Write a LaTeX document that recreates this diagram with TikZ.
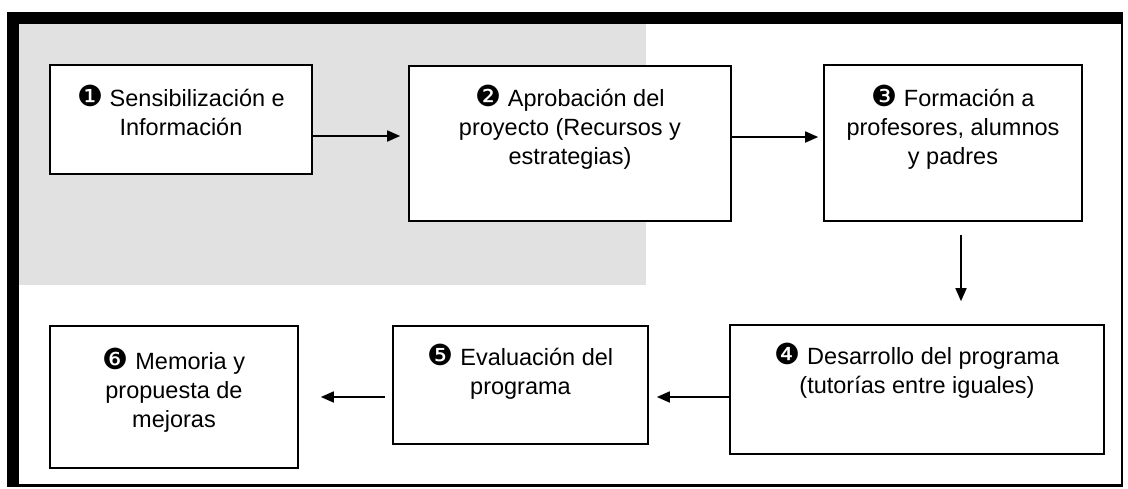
\documentclass[tikz,border=0pt]{standalone}
\usepackage{fontspec}
\setmainfont{Liberation Sans}
\newfontfamily\dingfont{DejaVu Sans}
\usetikzlibrary{arrows.meta}
\definecolor{panelgray}{HTML}{E1E1E1}
\newcommand{\dnum}[1]{{\dingfont\fontsize{29pt}{29pt}\selectfont #1}}
\newcommand{\boxtext}[4]{\parbox[t][#2pt][t]{#1pt}{\centering\rule{0pt}{#3pt}#4}}
\tikzset{
  stepbox/.style={draw=black, line width=1.6pt, fill=white, inner sep=0pt,
    font=\fontsize{23.5pt}{29pt}\selectfont},
  arr/.style={line width=1.7pt, -{Triangle[length=13pt,width=11pt]}},
}
\begin{document}
\begin{tikzpicture}[x=1pt,y=-1pt]
\useasboundingbox (0,0) rectangle (1128,488);
\fill[white] (0,0) rectangle (1128,488);
% frame
\fill[panelgray] (19,24) rectangle (646,285);
\draw[line width=2.5pt] (8,13) rectangle (1122,485.5);
\fill[black] (7,12) rectangle (1123,24);
\fill[black] (7,12) rectangle (19,487);
% boxes
\node[stepbox] (b1) at (181,119.5) {\boxtext{262}{109}{41}{\dnum{❶} Sensibilización e\\Información}};
\node[stepbox] (b2) at (570,143.5) {\boxtext{322}{155}{40}{\dnum{❷} Aprobación del\\proyecto (Recursos y\\estrategias)}};
\node[stepbox] (b3) at (953,143) {\boxtext{258}{156}{41.5}{\dnum{❸} Formación a\\profesores, alumnos\\y padres}};
\node[stepbox] (b4) at (917,389.5) {\boxtext{374}{129}{39}{\dnum{❹} Desarrollo del programa\\(tutorías entre iguales)}};
\node[stepbox] (b5) at (520.5,385) {\boxtext{255}{118}{39}{\dnum{❺} Evaluación del\\programa}};
\node[stepbox] (b6) at (174,397) {\boxtext{248}{142}{43}{\dnum{❻} Memoria y\\propuesta de\\mejoras}};
% connector rows
\coordinate (r1) at (0,136);
\coordinate (r2) at (0,137);
\coordinate (c3) at (961,0);
\coordinate (r4) at (0,397);
% connectors
\draw[arr, shorten >=8pt] (b1.east |- r1) -- (b2.west |- r1);
\draw[arr, shorten >=5pt] (b2.east |- r2) -- (b3.west |- r2);
\draw[arr, shorten <=13pt, shorten >=23pt] (b3.south -| c3) -- (b4.north -| c3);
\draw[arr, shorten >=8pt] (b4.west |- r4) -- (b5.east |- r4);
\draw[arr, shorten <=7pt, shorten >=22pt] (b5.west |- r4) -- (b6.east |- r4);
\end{tikzpicture}
\end{document}
